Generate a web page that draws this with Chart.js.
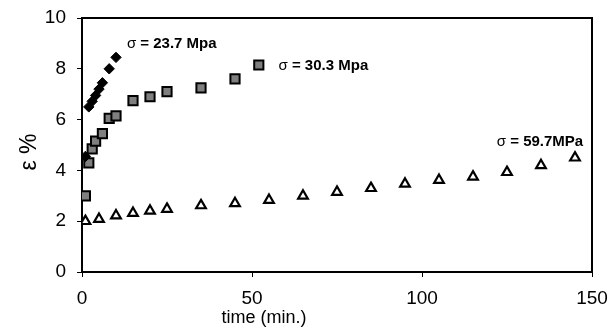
<!DOCTYPE html>
<html>
<head>
<meta charset="utf-8">
<script src="https://cdn.jsdelivr.net/npm/chart.js@4.4.0/dist/chart.umd.min.js"></script>
<style>
  body { margin: 0; background: #fff; }
  #wrap { width: 608px; height: 331px; position: relative; }
</style>
</head>
<body>
<div id="wrap"><canvas id="grafico"></canvas></div>
<script>
// datos
const t237 = [1, 2, 3, 4, 5, 6, 8, 10];
const e237 = [4.55, 6.5, 6.72, 6.95, 7.2, 7.45, 8.0, 8.45];

const t303 = [1, 2, 3, 4, 6, 8, 10, 15, 20, 25, 35, 45, 52];
const e303 = [3.0, 4.3, 4.85, 5.15, 5.45, 6.05, 6.15, 6.75, 6.9, 7.1, 7.25, 7.6, 8.15];

const t597 = [1, 5, 10, 15, 20, 25, 35, 45, 55, 65, 75, 85, 95, 105, 115, 125, 135, 145];
const e597 = [2.0, 2.08, 2.22, 2.32, 2.41, 2.48, 2.62, 2.7, 2.83, 3.0, 3.15, 3.3, 3.47, 3.62, 3.75, 3.93, 4.2, 4.5];

const xTicks = [0, 50, 100, 150];
const yTicks = [0, 2, 4, 6, 8, 10];
const etiquetas = ["23.7 Mpa", "30.3 Mpa", "59.7MPa"];

function puntos(xs, ys) {
  return xs.map((x, i) => ({ x: x, y: ys[i] }));
}

const tickFont = { family: "'Liberation Sans', Arial, sans-serif", size: 19 };

// marco, titulos y etiquetas de sigma
const extras = {
  id: "extras",
  beforeDatasetsDraw(chart) {
    const { ctx, chartArea: a } = chart;
    ctx.save();
    ctx.strokeStyle = "#000";
    ctx.lineWidth = 2;
    ctx.strokeRect(a.left, a.top, a.right - a.left, a.bottom - a.top);
    ctx.restore();
  },
  afterDraw(chart) {
    const { ctx } = chart;
    const xs = chart.scales.x, ys = chart.scales.y;
    ctx.save();
    ctx.fillStyle = "#000";
    ctx.textBaseline = "middle";

    function sigma(x, y, resto) {
      ctx.font = "15px 'Liberation Sans Narrow', 'Arial Narrow', 'Liberation Sans', sans-serif";
      ctx.textAlign = "left";
      ctx.fillText("\u03c3 ", x, y);
      let w = ctx.measureText("\u03c3 ").width;
      ctx.font = "bold 15px 'Liberation Sans Narrow', 'Arial Narrow', 'Liberation Sans', sans-serif";
      ctx.fillText("= " + resto, x + w, y);
    }
    sigma(xs.getPixelForValue(13.2), ys.getPixelForValue(8.98), etiquetas[0]);
    sigma(xs.getPixelForValue(57.8), ys.getPixelForValue(8.1), etiquetas[1]);
    sigma(xs.getPixelForValue(122), ys.getPixelForValue(5.12), etiquetas[2]);

    // titulo eje x
    ctx.font = "18px 'Liberation Sans', Arial, sans-serif";
    ctx.textAlign = "center";
    ctx.fillText("time (min.)", 264, 318);

    // titulo eje y
    ctx.translate(30, 152);
    ctx.rotate(-Math.PI / 2);
    ctx.font = "23px 'Liberation Sans', Arial, sans-serif";
    ctx.fillText("\u03b5 %", 0, 0);
    ctx.restore();
  }
};

const ctx = document.getElementById("grafico").getContext("2d");
new Chart(ctx, {
  type: "scatter",
  data: {
    datasets: [
      {
        label: "23.7",
        data: puntos(t237, e237),
        pointStyle: "rectRot",
        pointRadius: 5.2,
        backgroundColor: "#000",
        borderColor: "#000",
        borderWidth: 1
      },
      {
        label: "30.3",
        data: puntos(t303, e303),
        pointStyle: "rect",
        pointRadius: 6.5,
        backgroundColor: "#7f7f7f",
        borderColor: "#000",
        borderWidth: 2
      },
      {
        label: "59.7",
        data: puntos(t597, e597),
        pointStyle: "triangle",
        pointRadius: 5.6,
        backgroundColor: "#fff",
        borderColor: "#000",
        borderWidth: 2.2
      }
    ]
  },
  options: {
    responsive: true,
    maintainAspectRatio: false,
    animation: false,
    layout: { padding: { left: 0, right: 16, top: 18, bottom: 0 } },
    plugins: {
      legend: { display: false },
      tooltip: { enabled: false }
    },
    scales: {
      x: {
        type: "linear",
        min: 0,
        max: 150,
        afterFit: (s) => { s.height = 59; s.paddingLeft = 0; s.paddingRight = 0; },
        afterBuildTicks: (s) => { s.ticks = xTicks.map(v => ({ value: v })); },
        border: { display: false },
        grid: { drawOnChartArea: false, drawTicks: true, tickLength: 5, color: "#000" },
        ticks: { color: "#000", font: tickFont, padding: 10, maxRotation: 0 }
      },
      y: {
        min: 0,
        max: 10,
        afterFit: (s) => { s.width = 82; s.paddingTop = 0; s.paddingBottom = 0; },
        afterBuildTicks: (s) => { s.ticks = yTicks.map(v => ({ value: v })); },
        border: { display: false },
        grid: { drawOnChartArea: false, drawTicks: true, tickLength: 5, color: "#000" },
        ticks: { color: "#000", font: tickFont, padding: 11 }
      }
    }
  },
  plugins: [extras]
});
</script>
</body>
</html>
